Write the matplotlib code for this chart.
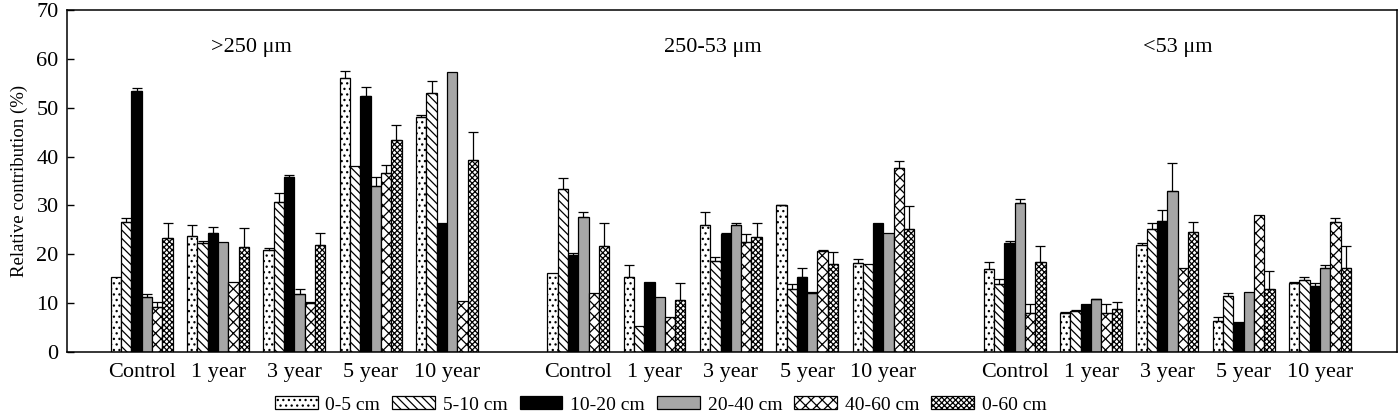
import numpy as np
import matplotlib.pyplot as plt

plt.rcParams['font.family'] = ['Liberation Serif', 'DejaVu Serif']
plt.rcParams['hatch.linewidth'] = 0.9

treatments = ['Control', '1 year', '3 year', '5 year', '10 year']
depths = ['0-5 cm', '5-10 cm', '10-20 cm', '20-40 cm', '40-60 cm', '0-60 cm']
fractions = ['>250 μm', '250-53 μm', '<53 μm']

# rows = treatments, columns = depths
big_mean = [[15.3, 26.7, 53.4, 11.3, 9.3, 23.3],
            [23.8, 22.4, 24.3, 22.6, 14.4, 21.5],
            [20.8, 30.8, 35.9, 11.9, 10.0, 21.9],
            [56.1, 38.1, 52.3, 34.0, 36.7, 43.3],
            [48.1, 53.1, 26.5, 57.4, 10.5, 39.2]]
big_err = [[0, 0.8, 0.7, 0.5, 1.0, 3.2],
           [2.1, 0.3, 1.3, 0, 0, 3.9],
           [0.4, 1.8, 0.4, 0.9, 0.3, 2.4],
           [1.5, 0, 1.9, 1.9, 1.6, 3.2],
           [0.5, 2.4, 0, 0, 0, 5.9]]

mid_mean = [[16.1, 33.4, 19.9, 27.6, 12.0, 21.7],
            [15.4, 5.4, 14.4, 11.3, 7.1, 10.6],
            [25.9, 18.7, 24.1, 26.0, 22.6, 23.5],
            [30.0, 12.8, 15.4, 12.0, 20.7, 18.1],
            [18.3, 18.1, 26.5, 24.4, 37.7, 25.1]]
mid_err = [[0, 2.3, 0.4, 1.0, 0, 4.8],
           [2.5, 0, 0, 0, 0, 3.5],
           [2.8, 0.7, 0.3, 0.5, 1.5, 3.0],
           [0.1, 1.1, 1.7, 0.3, 0.1, 2.4],
           [0.7, 0, 0, 0, 1.4, 4.8]]

small_mean = [[16.9, 13.9, 22.4, 30.4, 8.0, 18.4],
              [8.0, 8.3, 9.9, 10.8, 8.0, 8.8],
              [21.9, 25.1, 26.9, 32.9, 17.1, 24.6],
              [6.4, 11.5, 6.2, 12.3, 28.0, 12.8],
              [14.1, 14.7, 13.6, 17.1, 26.7, 17.1]]
small_err = [[1.6, 1.0, 0.3, 1.0, 1.9, 3.3],
             [0.1, 0.3, 0, 0.1, 1.9, 1.4],
             [0.5, 1.4, 2.2, 5.8, 0, 2.1],
             [0.8, 0.5, 0, 0, 0, 3.8],
             [0.2, 0.6, 0.5, 0.7, 0.8, 4.6]]

means = [big_mean, mid_mean, small_mean]
errs = [big_err, mid_err, small_err]

faces = ['white', 'white', 'black', '#a6a6a6', 'white', 'white']
hatches = ['...', '\\\\\\\\', None, None, 'xxx', 'xxxxxx']

group_step = 5.72
w = 0.135

fig = plt.figure(figsize=(14, 4.19), dpi=100)
ax = fig.add_axes([67/1400, 1-352/419, 1330/1400, 342/419])

centers = []
for g in range(3):
    m = np.array(means[g])
    e = np.array(errs[g])
    base = g*group_step + np.arange(len(treatments))
    centers += list(base)
    for j in range(len(depths)):
        x = base + (j - 2.5)*w
        ax.bar(x, m[:, j], width=w, color=faces[j], hatch=hatches[j],
               edgecolor='black', linewidth=0.9, zorder=2,
               label=depths[j] if g == 0 else None)
        ok = e[:, j] > 0
        ax.errorbar(x[ok], m[ok, j], yerr=[np.zeros(ok.sum()), e[ok, j]],
                    fmt='none', ecolor='black', elinewidth=0.9,
                    capsize=3.5, capthick=0.9, zorder=3)

label_x = [1.43, 7.49, 13.58]
for g in range(3):
    ax.text(label_x[g], 62.4, fractions[g], ha='center', va='center', fontsize=16)

ax.set_xlim(-0.98, 16.45)
ax.set_ylim(0, 70)
ax.set_yticks(range(0, 71, 10))
ax.set_xticks(centers)
ax.set_xticklabels(treatments*3)
ax.tick_params(axis='x', length=0, pad=8, labelsize=16)
ax.tick_params(axis='y', direction='in', length=5, width=1, labelsize=16, pad=6)
for s in ax.spines.values():
    s.set_linewidth(1.1)
ax.set_ylabel('Relative contribution (%)', fontsize=13.5, labelpad=6)

fig.legend(loc='center', bbox_to_anchor=(0.472, 1-405/419), ncol=6,
           frameon=False, fontsize=14, handlelength=2.2, handleheight=0.65,
           handletextpad=0.4, columnspacing=0.62, borderaxespad=0, borderpad=0)

fig.savefig('out.png', dpi=100)
